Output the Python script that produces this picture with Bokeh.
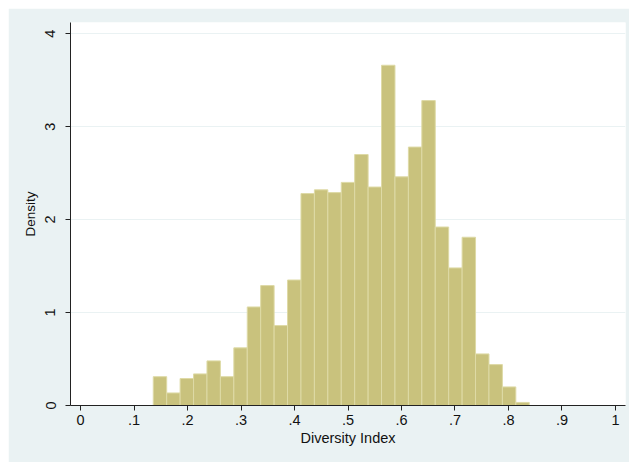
from bokeh.plotting import figure
from bokeh.models import FixedTicker, Range1d, ColumnDataSource
from bokeh.embed import file_html
from bokeh.resources import INLINE
import math

# Histogram data (Density per bin)
bin_start = 0.136
bin_width = 0.0251
density = [0.31, 0.135, 0.29, 0.34, 0.48, 0.31, 0.62, 1.06, 1.29, 0.86,
           1.35, 2.28, 2.32, 2.29, 2.40, 2.70, 2.35, 3.66, 2.46, 2.78,
           3.28, 1.92, 1.48, 1.81, 0.555, 0.44, 0.20, 0.033]
x_ticks = [0, 0.1, 0.2, 0.3, 0.4, 0.5, 0.6, 0.7, 0.8, 0.9, 1.0]
x_tick_labels = ["0", ".1", ".2", ".3", ".4", ".5", ".6", ".7", ".8", ".9", "1"]
y_ticks = [0, 1, 2, 3, 4]

left = [bin_start + i * bin_width for i in range(len(density))]
right = [l + bin_width for l in left]
src = ColumnDataSource(dict(left=left, right=right, top=density, bottom=[0] * len(density)))

BG = "#EAF2F3"
p = figure(width=621, height=454, output_backend="svg", toolbar_location=None,
           x_range=Range1d(-0.0187, 1.0187), y_range=Range1d(0, 4.12),
           min_border_left=62, min_border_right=4, min_border_top=14, min_border_bottom=57)
p.margin = (8, 0, 0, 8)
p.background_fill_color = "white"
p.border_fill_color = BG
p.outline_line_color = None

p.quad(left="left", right="right", top="top", bottom="bottom", source=src,
       fill_color="#C9C27D", line_color="#DEDAA6", line_width=1)

# grids
p.xgrid.grid_line_color = None
p.ygrid.grid_line_color = BG
p.ygrid.grid_line_width = 1

# x axis
xa = p.xaxis[0]
xa.ticker = FixedTicker(ticks=x_ticks)
xa.major_label_overrides = {t: s for t, s in zip(x_ticks, x_tick_labels)}
xa.major_label_overrides.update({0: "0", 1: "1"})
xa.axis_label = "Diversity Index"
xa.axis_label_text_font = "Liberation Sans"
xa.axis_label_text_font_style = "normal"
xa.axis_label_text_font_size = "14.5px"
xa.axis_label_text_color = "#111111"
xa.axis_label_standoff = 2
xa.major_label_text_font = "Liberation Sans"
xa.major_label_text_font_size = "14.5px"
xa.major_label_text_color = "#111111"
xa.major_label_standoff = 4
xa.major_tick_in = 0
xa.major_tick_out = 5
xa.minor_tick_line_color = None
xa.axis_line_color = "#222222"
xa.major_tick_line_color = "#222222"

# y axis
ya = p.yaxis[0]
ya.ticker = FixedTicker(ticks=y_ticks)
ya.axis_label = "Density"
ya.axis_label_text_font = "Liberation Sans"
ya.axis_label_text_font_style = "normal"
ya.axis_label_text_font_size = "13.5px"
ya.axis_label_text_color = "#111111"
ya.axis_label_standoff = 5
ya.major_label_orientation = "vertical"
ya.major_label_text_font = "Liberation Sans"
ya.major_label_text_font_size = "14.5px"
ya.major_label_text_color = "#111111"
ya.major_label_standoff = 10
ya.major_tick_in = 0
ya.major_tick_out = 5
ya.minor_tick_line_color = None
ya.axis_line_color = "#222222"
ya.major_tick_line_color = "#222222"

open("out.html", "w").write(file_html(p, INLINE))
